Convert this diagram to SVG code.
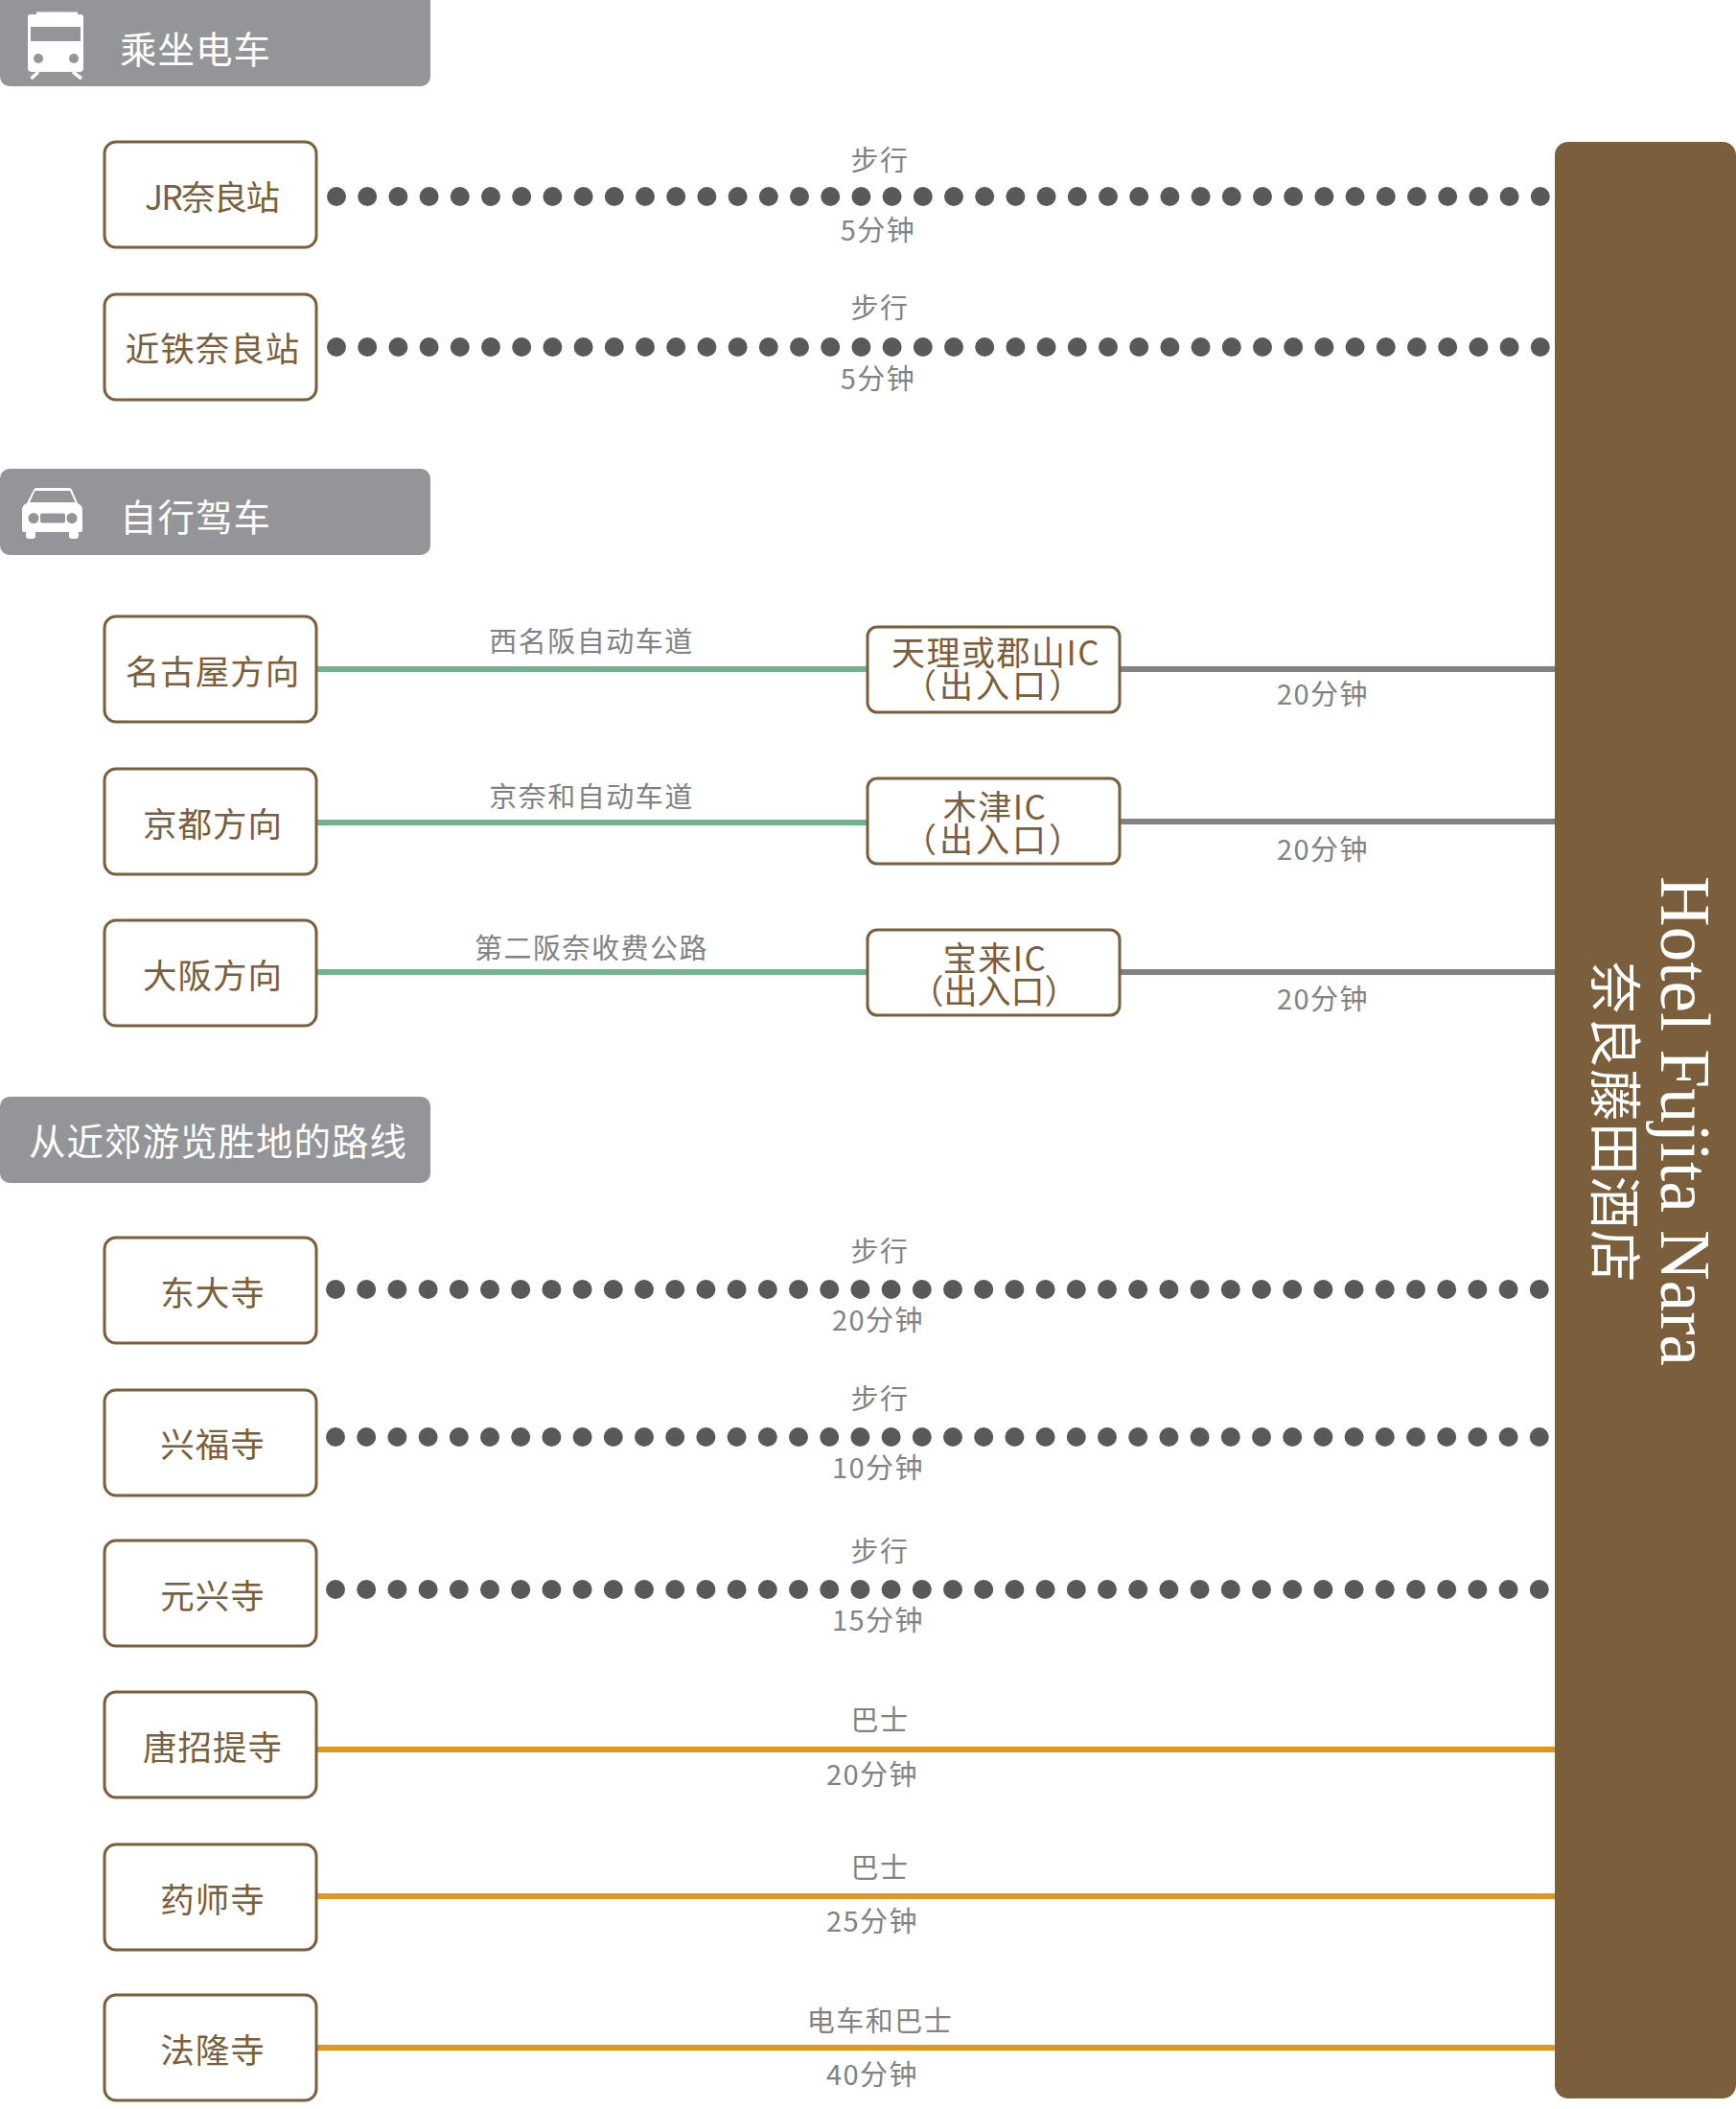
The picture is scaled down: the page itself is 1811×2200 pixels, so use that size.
<svg xmlns="http://www.w3.org/2000/svg" width="1811" height="2200" viewBox="0 0 1811 2200">
<defs>
<style>
text{font-family:"Noto Sans CJK SC","Noto Sans",sans-serif}
.hd{fill:#939598}
.ht{fill:#fff;font-size:38.500px;letter-spacing:1px}
.box{fill:#fff;stroke:#7b5e3c;stroke-width:3}
.nt{fill:#7b5e3c;font-size:35.500px;text-anchor:middle;letter-spacing:1px}
.ic{fill:#7b5e3c;font-size:35px;text-anchor:middle}
.lb{fill:#808285;font-size:29px;text-anchor:middle;letter-spacing:1.500px}
.dot{stroke:#58595b;stroke-width:20;stroke-linecap:round;stroke-dasharray:0 32.2;fill:none}
.g{stroke:#6fb48e;stroke-width:6}
.k{stroke:#808285;stroke-width:6}
.o{stroke:#e0971f;stroke-width:6}
</style>
</defs>
<g id="connectors">
<line class="dot" x1="351" y1="205" x2="1608" y2="205"/>
<line class="dot" x1="351" y1="362" x2="1608" y2="362"/>
<line class="dot" x1="350" y1="1345" x2="1607" y2="1345"/>
<line class="dot" x1="350" y1="1499" x2="1607" y2="1499"/>
<line class="dot" x1="350" y1="1658" x2="1607" y2="1658"/>
<line class="g" x1="330" y1="698" x2="906" y2="698"/>
<line class="g" x1="330" y1="858" x2="906" y2="858"/>
<line class="g" x1="330" y1="1014" x2="906" y2="1014"/>
<line class="k" x1="1168" y1="698" x2="1623" y2="698"/>
<line class="k" x1="1168" y1="857" x2="1623" y2="857"/>
<line class="k" x1="1168" y1="1014" x2="1623" y2="1014"/>
<line class="o" x1="330" y1="1825" x2="1623" y2="1825"/>
<line class="o" x1="330" y1="1978" x2="1623" y2="1978"/>
<line class="o" x1="330" y1="2136" x2="1623" y2="2136"/>
</g>
<g id="header-train">
<rect class="hd" x="0" y="-12" width="449" height="102" rx="10"/>
<path fill="#fff" d="M38 15V12.500H81V15H84Q87 15 87 18V71Q87 75 83 75H33Q29 75 29 71V18Q29 15 32 15Z"/>
<rect class="hd" x="32" y="28" width="52" height="15"/>
<circle class="hd" cx="40" cy="61" r="5"/>
<circle class="hd" cx="77" cy="61" r="5"/>
<path stroke="#fff" stroke-width="3.500" fill="none" d="M40 75L32.500 82M76 75L85 82"/>
<text class="ht" x="125" y="66">乘坐电车</text>
</g>
<g id="header-car">
<rect class="hd" x="0" y="489" width="449" height="90" rx="10"/>
<path fill="#fff" d="M28 525L35 511Q36 509 38 509H72Q74 509 75 511L81 525Q86 527 86 532V553Q86 555 84 555H82V559Q82 562 79 562H75Q72 562 72 559V555H37V559Q37 562 34 562H30Q27 562 27 559V555H25Q23 555 23 553V532Q23 527 28 525Z"/>
<path class="hd" d="M31 524L36.500 512H73L78.500 524Z"/>
<circle class="hd" cx="35" cy="540.500" r="5.500"/>
<circle class="hd" cx="75" cy="540.500" r="5.500"/>
<rect class="hd" x="42" y="535.500" width="26" height="10" rx="2"/>
<text class="ht" x="125" y="554">自行驾车</text>
</g>
<g id="header-sights">
<rect class="hd" x="0" y="1144" width="449" height="90" rx="10"/>
<text class="ht" x="30" y="1205">从近郊游览胜地的路线</text>
</g>
<g id="hotel">
<rect x="1622" y="148" width="189" height="2041" rx="14" fill="#7b5e3c"/>
<text transform="translate(1733 914) rotate(90)" font-size="73" fill="#fff" style="font-family:'Liberation Serif',serif">Hotel Fujita Nara</text>
<text transform="translate(1665 1003) rotate(90)" font-size="54.500" fill="#fff" letter-spacing="1.500">奈良藤田酒店</text>
</g>
<g id="node-jr"><rect class="box" x="109" y="148" width="221" height="110" rx="12"/><text class="nt" x="222" y="219" textLength="142">JR奈良站</text></g>
<g id="node-kintetsu"><rect class="box" x="109" y="307" width="221" height="110" rx="12"/><text class="nt" x="222" y="377">近铁奈良站</text></g>
<g id="node-nagoya"><rect class="box" x="109" y="643" width="221" height="110" rx="12"/><text class="nt" x="222" y="714">名古屋方向</text></g>
<g id="node-kyoto"><rect class="box" x="109" y="802" width="221" height="110" rx="12"/><text class="nt" x="222" y="873">京都方向</text></g>
<g id="node-osaka"><rect class="box" x="109" y="960" width="221" height="110" rx="12"/><text class="nt" x="222" y="1031">大阪方向</text></g>
<g id="node-todaiji"><rect class="box" x="109" y="1291" width="221" height="110" rx="12"/><text class="nt" x="222" y="1362">东大寺</text></g>
<g id="node-kofukuji"><rect class="box" x="109" y="1450" width="221" height="110" rx="12"/><text class="nt" x="222" y="1520">兴福寺</text></g>
<g id="node-gangoji"><rect class="box" x="109" y="1607" width="221" height="110" rx="12"/><text class="nt" x="222" y="1678">元兴寺</text></g>
<g id="node-toshodaiji"><rect class="box" x="109" y="1765" width="221" height="110" rx="12"/><text class="nt" x="222" y="1836">唐招提寺</text></g>
<g id="node-yakushiji"><rect class="box" x="109" y="1924" width="221" height="110" rx="12"/><text class="nt" x="222" y="1995">药师寺</text></g>
<g id="node-horyuji"><rect class="box" x="109" y="2081" width="221" height="110" rx="12"/><text class="nt" x="222" y="2152">法隆寺</text></g>
<g id="ic-tenri"><rect class="box" x="905" y="654" width="263" height="89" rx="10"/><text class="ic"><tspan x="1039" y="694" letter-spacing="1.500">天理或郡山IC</tspan><tspan x="1037" y="728" letter-spacing="3">（出入口）</tspan></text></g>
<g id="ic-kizu"><rect class="box" x="905" y="812" width="263" height="89" rx="10"/><text class="ic"><tspan x="1038" y="855" letter-spacing="1.500">木津IC</tspan><tspan x="1037" y="889" letter-spacing="3">（出入口）</tspan></text></g>
<g id="ic-horai"><rect class="box" x="905" y="970" width="263" height="89" rx="10"/><text class="ic"><tspan x="1038" y="1013" letter-spacing="1.500">宝来IC</tspan><tspan x="1037" y="1047">（出入口）</tspan></text></g>
<g id="labels">
<text class="lb" x="918" y="178">步行</text><text class="lb" x="916" y="251">5分钟</text>
<text class="lb" x="918" y="332">步行</text><text class="lb" x="916" y="406">5分钟</text>
<text class="lb" x="617" y="680">西名阪自动车道</text>
<text class="lb" x="617" y="842">京奈和自动车道</text>
<text class="lb" x="617" y="1000">第二阪奈收费公路</text>
<text class="lb" x="1380" y="735">20分钟</text>
<text class="lb" x="1380" y="897">20分钟</text>
<text class="lb" x="1380" y="1053">20分钟</text>
<text class="lb" x="918" y="1316">步行</text><text class="lb" x="916" y="1388">20分钟</text>
<text class="lb" x="918" y="1470">步行</text><text class="lb" x="916" y="1542">10分钟</text>
<text class="lb" x="918" y="1629">步行</text><text class="lb" x="916" y="1701">15分钟</text>
<text class="lb" x="918" y="1805">巴士</text><text class="lb" x="910" y="1862">20分钟</text>
<text class="lb" x="918" y="1959">巴士</text><text class="lb" x="910" y="2015">25分钟</text>
<text class="lb" x="918" y="2119">电车和巴士</text><text class="lb" x="910" y="2175">40分钟</text>
</g>
</svg>
